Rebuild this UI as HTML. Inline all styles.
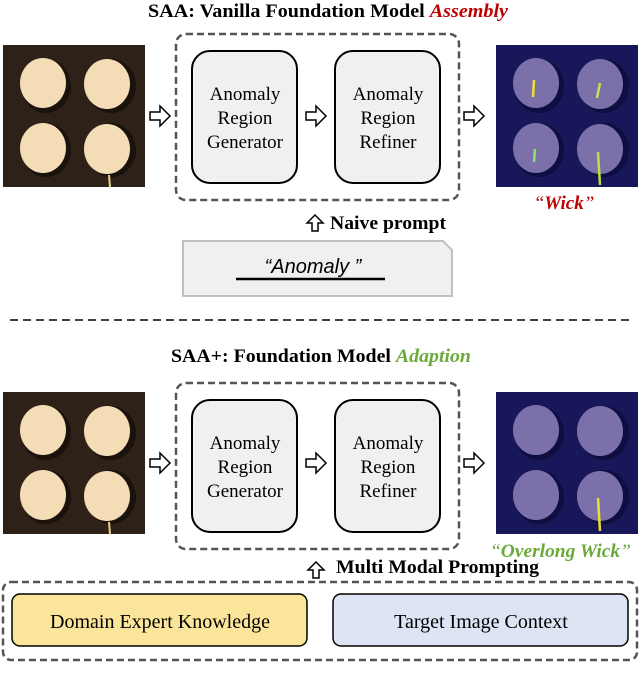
<!DOCTYPE html>
<html><head><meta charset="utf-8"><style>
html,body{margin:0;padding:0;background:#fff;width:640px;height:695px;overflow:hidden}
svg{display:block}
text{font-family:"Liberation Serif",serif}
</style></head><body>
<svg width="640" height="695" viewBox="0 0 640 695" xmlns="http://www.w3.org/2000/svg">
<defs>
<g id="cand">
<rect x="0" y="0" width="142" height="142" fill="#2e2118"/>
<ellipse cx="43" cy="41" rx="25" ry="27" fill="#1a120c"/><ellipse cx="40" cy="38" rx="23" ry="25" fill="#f3dcb6"/>
<ellipse cx="108" cy="41" rx="25" ry="27" fill="#1a120c"/><ellipse cx="104" cy="39" rx="23" ry="25" fill="#f3dcb6"/>
<ellipse cx="43" cy="105" rx="25" ry="27" fill="#1a120c"/><ellipse cx="40" cy="103" rx="23" ry="25" fill="#f3dcb6"/>
<ellipse cx="108" cy="105" rx="25" ry="27" fill="#1a120c"/><ellipse cx="104" cy="104" rx="23" ry="25" fill="#f3dcb6"/>
<line x1="106" y1="130" x2="107" y2="142" stroke="#e8d090" stroke-width="2"/>
</g>
<g id="cand2">
<rect x="0" y="0" width="142" height="142" fill="#17175a"/>
<ellipse cx="43" cy="41" rx="25" ry="27" fill="#0e0e40"/><ellipse cx="40" cy="38" rx="23" ry="25" fill="#7c70aa"/>
<ellipse cx="108" cy="41" rx="25" ry="27" fill="#0e0e40"/><ellipse cx="104" cy="39" rx="23" ry="25" fill="#7c70aa"/>
<ellipse cx="43" cy="105" rx="25" ry="27" fill="#0e0e40"/><ellipse cx="40" cy="103" rx="23" ry="25" fill="#7c70aa"/>
<ellipse cx="108" cy="105" rx="25" ry="27" fill="#0e0e40"/><ellipse cx="104" cy="104" rx="23" ry="25" fill="#7c70aa"/>
</g>
<path id="ar" d="M0,-4 H10 V-10 L20,0 L10,10 V4 H0 Z" fill="#fff" stroke="#000" stroke-width="1.5"/>
<path id="au" d="M-3,0 V-8 H-8 L0,-16 L8,-8 H3 V0 Z" fill="#fff" stroke="#000" stroke-width="1.5"/>
</defs>

<!-- TOP -->
<text x="148" y="17" font-size="19" font-weight="bold" textLength="360" lengthAdjust="spacingAndGlyphs">SAA: Vanilla Foundation Model <tspan fill="#c00000" font-style="italic">Assembly</tspan></text>
<use href="#cand" x="3" y="45"/>
<use href="#cand2" x="496" y="45"/>
<line x1="534" y1="80" x2="533" y2="97" stroke="#f0e030" stroke-width="2.5"/>
<line x1="600" y1="83" x2="597" y2="98" stroke="#c8e050" stroke-width="2.5"/>
<line x1="535" y1="149" x2="534" y2="162" stroke="#90e070" stroke-width="2.5"/>
<line x1="598" y1="152" x2="600" y2="185" stroke="#b8e040" stroke-width="2.5"/>
<rect x="176" y="34" width="283" height="166" rx="10" fill="none" stroke="#555" stroke-width="2.5" stroke-dasharray="7,4"/>
<rect x="192" y="51" width="105" height="132" rx="18" fill="#f0f0f0" stroke="#000" stroke-width="2"/>
<rect x="335" y="51" width="105" height="132" rx="18" fill="#f0f0f0" stroke="#000" stroke-width="2"/>
<g font-size="19" text-anchor="middle"><text x="245" y="100">Anomaly</text><text x="245" y="124">Region</text><text x="245" y="148">Generator</text>
<text x="388" y="100">Anomaly</text><text x="388" y="124">Region</text><text x="388" y="148">Refiner</text></g>
<use href="#ar" x="150" y="116"/><use href="#ar" x="306" y="116"/><use href="#ar" x="464" y="116"/>
<text x="564" y="209" text-anchor="middle" font-size="19" font-style="italic" font-weight="bold" fill="#c00000"><tspan font-weight="normal">“</tspan>Wick<tspan font-weight="normal">”</tspan></text>
<use href="#au" x="315" y="231"/>
<text x="330" y="229" font-size="19" font-weight="bold" textLength="116" lengthAdjust="spacingAndGlyphs">Naive prompt</text>
<path d="M183,241 H443 L452,250 V296 H183 Z" fill="#f0f0f0" stroke="#c0c0c0" stroke-width="2"/>
<text x="313" y="273" text-anchor="middle" font-size="20" font-style="italic" style="font-family:'Liberation Sans',sans-serif">“Anomaly ”</text>
<line x1="236" y1="279" x2="385" y2="279" stroke="#000" stroke-width="2.5"/>

<line x1="10" y1="320" x2="632" y2="320" stroke="#000" stroke-width="1.5" stroke-dasharray="8,5"/>

<!-- BOTTOM -->
<text x="171" y="362" font-size="19" font-weight="bold" textLength="300" lengthAdjust="spacingAndGlyphs">SAA+: Foundation Model <tspan fill="#6aaa3a" font-style="italic">Adaption</tspan></text>
<use href="#cand" x="3" y="392"/>
<use href="#cand2" x="496" y="392"/>
<line x1="598" y1="498" x2="600" y2="531" stroke="#e8e030" stroke-width="2.5"/>
<rect x="176" y="383" width="283" height="166" rx="10" fill="none" stroke="#555" stroke-width="2.5" stroke-dasharray="7,4"/>
<rect x="192" y="400" width="105" height="132" rx="18" fill="#f0f0f0" stroke="#000" stroke-width="2"/>
<rect x="335" y="400" width="105" height="132" rx="18" fill="#f0f0f0" stroke="#000" stroke-width="2"/>
<g font-size="19" text-anchor="middle"><text x="245" y="449">Anomaly</text><text x="245" y="473">Region</text><text x="245" y="497">Generator</text>
<text x="388" y="449">Anomaly</text><text x="388" y="473">Region</text><text x="388" y="497">Refiner</text></g>
<use href="#ar" x="150" y="463"/><use href="#ar" x="306" y="463"/><use href="#ar" x="464" y="463"/>
<text x="490" y="557" font-size="19" font-style="italic" font-weight="bold" fill="#6aaa3a" textLength="141" lengthAdjust="spacingAndGlyphs"><tspan font-weight="normal">“</tspan>Overlong Wick<tspan font-weight="normal">”</tspan></text>
<use href="#au" x="316" y="578"/>
<text x="336" y="573" font-size="19" font-weight="bold" textLength="203" lengthAdjust="spacingAndGlyphs">Multi Modal Prompting</text>
<rect x="3" y="582" width="634" height="78" rx="8" fill="none" stroke="#555" stroke-width="2.5" stroke-dasharray="7,4"/>
<rect x="12" y="594" width="295" height="52" rx="8" fill="#fbe59a" stroke="#000" stroke-width="1.5"/>
<rect x="333" y="594" width="295" height="52" rx="8" fill="#dde4f4" stroke="#000" stroke-width="1.5"/>
<text x="160" y="628" text-anchor="middle" font-size="20">Domain Expert Knowledge</text>
<text x="481" y="628" text-anchor="middle" font-size="20">Target Image Context</text>
</svg>
</body></html>
